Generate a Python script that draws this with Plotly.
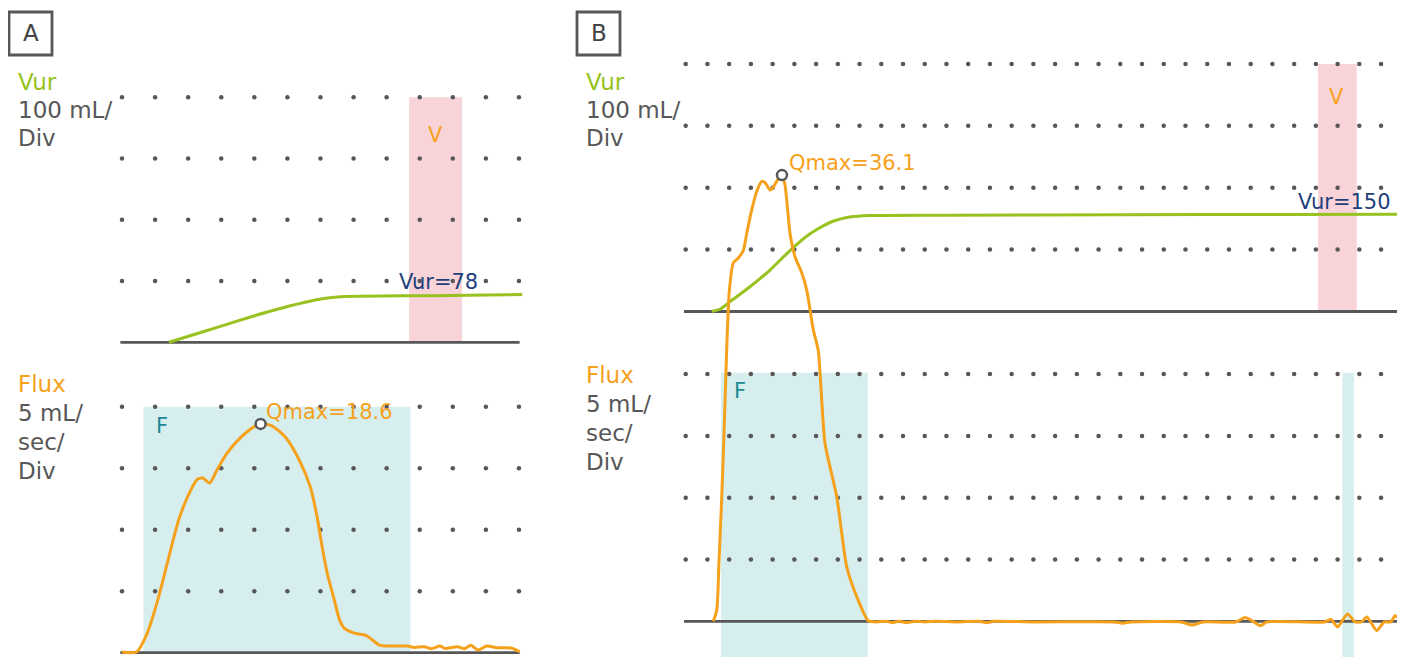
import plotly.graph_objects as go

# ---------------- data ----------------
# time in grid divisions, volume in mL, flow in mL/s
a_vur_t = [1.42, 2.5, 3.5, 4.5, 5.5, 6.1, 6.6, 7.2, 8.5, 10.0, 11.0, 12.1]
a_vur_v = [0, 18, 35, 51, 65, 71.5, 74.5, 75.3, 75.8, 76.6, 77.2, 78]

a_flux_t = [0.0, 0.45, 0.76, 1.08, 1.39, 1.71, 2.02, 2.28, 2.44, 2.65, 2.86, 3.17, 3.59, 4.01,
            4.19, 4.53, 4.95, 5.37, 5.69, 5.90, 6.05, 6.21, 6.42, 6.58, 6.73, 7.05, 7.36,
            7.57, 7.78, 8.09, 8.62, 8.83, 9.14, 9.35, 9.61, 9.77, 10.14, 10.35, 10.55,
            10.76, 11.03, 11.34, 11.76, 12.02]
a_flux_v = [0.05, 0.08, 1.57, 4.27, 7.5, 10.76, 12.9, 14.1, 14.2, 13.8, 14.8, 16.2, 17.5, 18.4,
            18.6, 18.45, 17.5, 15.6, 13.5, 11.0, 8.6, 6.4, 4.27, 2.65, 1.97, 1.57, 1.43,
            1.03, 0.62, 0.54, 0.54, 0.43, 0.49, 0.32, 0.54, 0.35, 0.49, 0.32, 0.6,
            0.22, 0.54, 0.4, 0.38, 0.08]
a_qmax = (4.19, 18.6)

b_vur_t = [1.2, 1.6, 2.04, 2.96, 3.88, 4.8, 5.72, 6.64, 7.56, 8.48, 12.0, 20.0, 28.0, 33.1]
b_vur_v = [0, 4, 16, 40, 67, 98.5, 125.5, 143.8, 152.5, 155, 155.6, 156.2, 156.8, 157]

b_flux_t = [1.27, 1.43, 1.53, 1.66, 1.76, 1.85, 1.92, 2.01, 2.19, 2.42, 2.65, 2.81, 3.04,
            3.27, 3.50, 3.65, 3.88, 4.06, 4.22, 4.43, 4.57, 4.68, 4.80, 5.03, 5.34, 5.57,
            5.87, 6.10, 6.41, 6.95, 7.41, 7.87, 8.40, 8.8, 9.2, 9.5, 9.8, 10.2, 10.6, 11.0,
            11.5, 12.5, 13.5, 13.85, 14.2, 16.0, 19.7, 20.1, 20.5, 22.8, 23.3, 23.8, 25.3,
            25.75, 26.15, 26.45, 26.75, 29.4, 29.7, 30.0, 30.45, 30.8, 31.1, 31.35, 31.8,
            32.15, 32.45, 32.65, 32.9, 33.1]
b_flux_v = [0, 0.91, 4.7, 10.1, 15.0, 20.0, 23.6, 26.8, 29.0, 29.4, 30.0, 31.4, 33.3,
            34.8, 35.6, 35.5, 34.9, 35.2, 35.7, 36.1, 35.3, 33.5, 31.4, 29.5, 28.2, 26.8,
            23.6, 21.9, 14.4, 10.1, 4.4, 2.0, 0.05, -0.05, 0.0, -0.1, 0.0, -0.1, 0.0, -0.05,
            0.0, -0.05, 0.0, -0.12, 0.0, -0.05, -0.05, -0.15, -0.05, -0.05, -0.3, -0.05, -0.05,
            0.3, -0.05, -0.35, -0.05, -0.05, 0.15, -0.45, 0.6, -0.05, -0.05, 0.35, -0.75,
            -0.05, -0.05, 0.45, 0.15, 0.12]
b_qmax = (4.43, 36.1)

a_cols = list(range(13))
b_cols = list(range(34))
vur_rows = [100, 200, 300, 400]
flux_rows = [5, 10, 15, 20]

# ---------------- style ----------------
W, H = 1405, 657
OFF = 8  # page body margin
ORANGE = "#F6A11C"
GREEN = "#97C21F"
NAVY = "#1F3F7C"
TEAL = "#1B8893"
GRAY = "#575757"
PINK = "#F8D3D7"
CYAN = "#D6EEEE"
FONT = "DejaVu Sans"
FS = 21
FS_SIDE = 23
LW = 3

# pixel anchors (page coords): value v -> px = origin + scale * v
def xrange_(origin, scale):
    o = origin - OFF
    return [(0 - o) / scale, (W - o) / scale]

def yrange_(origin, scale):
    o = origin - OFF
    return [(o - H) / scale, (o - 0) / scale]

fig = go.Figure()

layout_axes = {}
axes_spec = {
    "xaxis": xrange_(122, 33.08),
    "xaxis2": xrange_(685.7, 21.73),
}
yspec = {
    "yaxis": (yrange_(342.3, 0.6125), "x"),
    "yaxis2": (yrange_(652.7, 12.3), "x"),
    "yaxis3": (yrange_(311.5, 0.619), "x2"),
    "yaxis4": (yrange_(621.3, 12.36), "x2"),
}
for k, r in axes_spec.items():
    layout_axes[k] = dict(range=r, domain=[0, 1], visible=False, fixedrange=True)
for k, (r, anc) in yspec.items():
    layout_axes[k] = dict(range=r, domain=[0, 1], visible=False, anchor=anc, fixedrange=True)

def dots(cols, rows, xa, ya):
    xs, ys = [], []
    for r in rows:
        for c in cols:
            xs.append(c)
            ys.append(r)
    fig.add_trace(go.Scatter(x=xs, y=ys, mode="markers", xaxis=xa, yaxis=ya,
                             marker=dict(size=4.5, color=GRAY), hoverinfo="skip"))

def baseline(x0, x1, xa, ya):
    fig.add_trace(go.Scatter(x=[x0, x1], y=[0, 0], mode="lines", xaxis=xa, yaxis=ya,
                             line=dict(color=GRAY, width=2.8), hoverinfo="skip"))

# ---- Panel A ----
dots(a_cols, vur_rows, "x", "y")
baseline(-0.05, 12.02, "x", "y")
fig.add_trace(go.Scatter(x=a_vur_t, y=a_vur_v, mode="lines", xaxis="x", yaxis="y",
                         line=dict(color=GREEN, width=LW, shape="spline", smoothing=0.6)))
dots(a_cols, flux_rows, "x", "y2")
baseline(-0.05, 12.02, "x", "y2")
fig.add_trace(go.Scatter(x=a_flux_t, y=a_flux_v, mode="lines", xaxis="x", yaxis="y2",
                         line=dict(color=ORANGE, width=LW, shape="spline", smoothing=0.7)))
fig.add_trace(go.Scatter(x=[a_qmax[0]], y=[a_qmax[1]], mode="markers", xaxis="x", yaxis="y2",
                         marker=dict(size=10, color="white", line=dict(color=GRAY, width=2.5))))

# ---- Panel B ----
dots(b_cols, vur_rows, "x2", "y3")
baseline(-0.08, 33.2, "x2", "y3")
fig.add_trace(go.Scatter(x=b_vur_t, y=b_vur_v, mode="lines", xaxis="x2", yaxis="y3",
                         line=dict(color=GREEN, width=LW, shape="spline", smoothing=0.6)))
dots(b_cols, flux_rows, "x2", "y4")
baseline(-0.08, 33.2, "x2", "y4")
fig.add_trace(go.Scatter(x=b_flux_t, y=b_flux_v, mode="lines", xaxis="x2", yaxis="y4",
                         line=dict(color=ORANGE, width=LW, shape="spline", smoothing=0.6)))
fig.add_trace(go.Scatter(x=[b_qmax[0]], y=[b_qmax[1]], mode="markers", xaxis="x2", yaxis="y4",
                         marker=dict(size=10, color="white", line=dict(color=GRAY, width=2.5))))

# ---- shaded regions ----
shapes = [
    dict(type="rect", xref="x", yref="y", x0=8.68, x1=10.28, y0=0, y1=400,
         fillcolor=PINK, line_width=0, layer="below"),
    dict(type="rect", xref="x", yref="y2", x0=0.65, x1=8.72, y0=0, y1=20,
         fillcolor=CYAN, line_width=0, layer="below"),
    dict(type="rect", xref="x2", yref="y3", x0=29.1, x1=30.88, y0=0, y1=400,
         fillcolor=PINK, line_width=0, layer="below"),
    dict(type="rect", xref="x2", yref="y4", x0=1.62, x1=8.38, y0=-2.9, y1=20.1,
         fillcolor=CYAN, line_width=0, layer="below"),
    dict(type="rect", xref="x2", yref="y4", x0=30.22, x1=30.75, y0=-2.9, y1=20.1,
         fillcolor=CYAN, line_width=0, layer="below"),
]

def px(x):
    return (x - OFF) / W

def py(y):
    return 1 - (y - OFF) / H

# panel letter boxes
for (x0, x1) in [(9, 52), (577, 620)]:
    shapes.append(dict(type="rect", xref="paper", yref="paper", x0=px(x0), x1=px(x1),
                       y0=py(55), y1=py(12), line=dict(color=GRAY, width=2.8),
                       fillcolor="rgba(0,0,0,0)"))

ann = []
def txt(x, y, s, color, xref="paper", yref="paper", xanchor="left", size=FS):
    ann.append(dict(x=x, y=y, xref=xref, yref=yref, text=s, showarrow=False,
                    xanchor=xanchor, yanchor="middle",
                    font=dict(family=FONT, size=size, color=color)))

txt(px(30.5), py(33.5), "A", "#444444", xanchor="center", size=23)
txt(px(598.5), py(33.5), "B", "#444444", xanchor="center", size=23)

for x0, ys in [(16, (82, 110, 138)), (584, (82, 110, 138))]:
    txt(px(x0), py(ys[0]), "Vur", GREEN, size=FS_SIDE)
    txt(px(x0), py(ys[1]), "100 mL/", GRAY, size=FS_SIDE)
    txt(px(x0), py(ys[2]), "Div", GRAY, size=FS_SIDE)
for x0, ys in [(16, (384, 413, 442, 471)), (584, (375, 404, 433, 462))]:
    txt(px(x0), py(ys[0]), "Flux", ORANGE, size=FS_SIDE)
    txt(px(x0), py(ys[1]), "5 mL/", GRAY, size=FS_SIDE)
    txt(px(x0), py(ys[2]), "sec/", GRAY, size=FS_SIDE)
    txt(px(x0), py(ys[3]), "Div", GRAY, size=FS_SIDE)

txt(9.58, 98, "Vur=78", NAVY, "x", "y", "center")
txt(9.49, 339, "V", ORANGE, "x", "y", "center")
txt(4.3, 19.6, "Qmax=18.6", ORANGE, "x", "y2", "left")
txt(1.21, 18.4, "F", TEAL, "x", "y2", "center")

txt(30.32, 177, "Vur=150", NAVY, "x2", "y3", "center")
txt(29.97, 347, "V", ORANGE, "x2", "y3", "center")
txt(4.65, 37.1, "Qmax=36.1", ORANGE, "x2", "y4", "left")
txt(2.5, 18.6, "F", TEAL, "x2", "y4", "center")

fig.update_layout(
    width=W, height=H, autosize=False,
    margin=dict(l=0, r=0, t=0, b=0),
    paper_bgcolor="white", plot_bgcolor="rgba(0,0,0,0)",
    showlegend=False, shapes=shapes, annotations=ann,
    font=dict(family=FONT),
    **layout_axes,
)

fig.write_html("out.html")
